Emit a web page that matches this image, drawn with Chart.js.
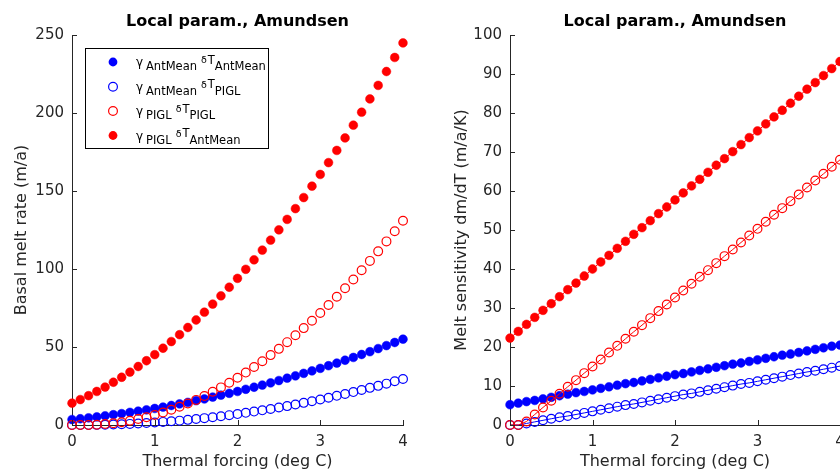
<!DOCTYPE html>
<html>
<head>
<meta charset="utf-8">
<script src="https://cdn.jsdelivr.net/npm/chart.js@4.4.1/dist/chart.umd.min.js"></script>
<style>
html,body{margin:0;padding:0;background:#fff;overflow:hidden;width:840px;height:474px;}
#wrap{position:relative;width:840px;height:474px;overflow:hidden;background:#fff;}
#c1{position:absolute;left:0;top:0;width:420px;height:474px;}
#c2{position:absolute;left:420px;top:0;width:460px;height:474px;}
</style>
</head>
<body>
<div id="wrap">
<canvas id="c1" width="420" height="474"></canvas>
<canvas id="c2" width="460" height="474"></canvas>
</div>
<script>
// ---- data ----
const thermalForcing = [0,0.1,0.2,0.3,0.4,0.5,0.6,0.7,0.8,0.9,1.0,1.1,1.2,1.3,1.4,1.5,1.6,1.7,1.8,1.9,2.0,2.1,2.2,2.3,2.4,2.5,2.6,2.7,2.8,2.9,3.0,3.1,3.2,3.3,3.4,3.5,3.6,3.7,3.8,3.9,4.0];

// Left panel: basal melt rate (m/a)
const meltAntMeanAntMean = [3.5,4.0,4.6,5.2,5.9,6.6,7.3,8.1,8.9,9.7,10.6,11.5,12.5,13.5,14.5,15.6,16.7,17.9,19.1,20.3,21.5,22.9,24.2,25.6,27.0,28.5,30.0,31.5,33.1,34.7,36.3,38.0,39.7,41.5,43.3,45.2,47.0,49.0,50.9,52.9,55.0];
const meltAntMeanPIGL = [0,0.0,0.0,0.1,0.2,0.3,0.5,0.7,1.0,1.3,1.6,2.0,2.4,2.8,3.3,3.8,4.4,5.0,5.6,6.3,7.0,7.8,8.6,9.4,10.3,11.2,12.1,13.1,14.2,15.2,16.3,17.5,18.7,19.9,21.1,22.4,23.8,25.1,26.5,28.0,29.5];
const meltPIGLPIGL = [0,0,0.0,0.2,0.6,1.1,1.8,2.7,3.8,5.0,6.4,8.0,9.8,11.7,13.8,16.1,18.6,21.3,24.1,27.1,30.3,33.6,37.2,40.9,44.8,48.8,53.1,57.5,62.1,66.8,71.8,76.9,82.2,87.7,93.3,99.2,105.2,111.3,117.7,124.2,130.9];
const meltPIGLAntMean = [14.0,16.3,18.8,21.5,24.3,27.4,30.6,33.9,37.5,41.2,45.1,49.2,53.5,57.9,62.5,67.3,72.3,77.5,82.8,88.3,94.0,99.8,105.9,112.1,118.5,125.1,131.8,138.7,145.8,153.1,160.6,168.2,176.0,184.0,192.2,200.5,209.0,217.7,226.6,235.6,244.9];

// Right panel: melt sensitivity dm/dT (m/a/K)
const sensAntMeanAntMean = [5.2,5.6,6.0,6.3,6.7,7.1,7.5,7.9,8.3,8.6,9.0,9.4,9.8,10.2,10.6,10.9,11.3,11.7,12.1,12.5,12.9,13.2,13.6,14.0,14.4,14.8,15.2,15.6,15.9,16.3,16.7,17.1,17.5,17.9,18.2,18.6,19.0,19.4,19.8,20.2,20.5];
const sensAntMeanPIGL = [0,0.0,0.4,0.8,1.2,1.6,2.0,2.3,2.7,3.1,3.5,3.9,4.3,4.7,5.1,5.4,5.8,6.2,6.6,7.0,7.4,7.8,8.1,8.5,8.9,9.3,9.7,10.1,10.5,10.8,11.2,11.6,12.0,12.4,12.8,13.2,13.6,13.9,14.3,14.7,15.1];
const sensPIGLPIGL = [0,0,0.9,2.7,4.5,6.2,8.0,9.8,11.5,13.3,15.0,16.8,18.6,20.3,22.1,23.9,25.6,27.4,29.2,30.9,32.7,34.5,36.2,38.0,39.7,41.5,43.3,45.0,46.8,48.6,50.3,52.1,53.9,55.6,57.4,59.1,60.9,62.7,64.4,66.2,68.0];
const sensPIGLAntMean = [22.3,24.0,25.8,27.6,29.4,31.1,32.9,34.7,36.4,38.2,40.0,41.8,43.5,45.3,47.1,48.9,50.6,52.4,54.2,55.9,57.7,59.5,61.3,63.0,64.8,66.6,68.3,70.1,71.9,73.7,75.4,77.2,79.0,80.7,82.5,84.3,86.1,87.8,89.6,91.4,93.2];

// Legend labels: gamma subscript and deltaT subscript
const gammaSub = ['AntMean','AntMean','PIGL','PIGL'];
const deltaTSub = ['AntMean','PIGL','PIGL','AntMean'];
const seriesColor = ['#0000ff','#0000ff','#ff0000','#ff0000'];
const seriesFilled = [true,false,false,true];

const panelTitle = 'Local param., Amundsen';
const xLabel = 'Thermal forcing (deg C)';
const yLabelLeft = 'Basal melt rate (m/a)';
const yLabelRight = 'Melt sensitivity dm/dT (m/a/K)';

const FONT = "'DejaVu Sans', 'Liberation Sans', sans-serif";
const AXC = '#262626';

function pts(ys){ return thermalForcing.map((x,i)=>({x:x,y:ys[i]})); }

function makeDatasets(series, showLine){
  return series.map((s,i)=>({
    label: 'gamma_' + gammaSub[i] + ' deltaT_' + deltaTSub[i],
    data: pts(s),
    showLine: showLine,
    borderColor: seriesColor[i],
    backgroundColor: seriesFilled[i] ? seriesColor[i] : 'rgba(0,0,0,0)',
    pointBackgroundColor: seriesFilled[i] ? seriesColor[i] : 'rgba(0,0,0,0)',
    pointBorderColor: seriesColor[i],
    pointBorderWidth: seriesFilled[i] ? 0.5 : 1.2,
    pointRadius: 4.4,
    pointHoverRadius: 4.4,
    borderWidth: 1,
    tension: 0,
    clip: false,
    order: 4 - i
  }));
}

const inwardTicks = {
  id: 'inwardTicks',
  afterDraw(chart){
    const ctx = chart.ctx, a = chart.chartArea;
    const xs = chart.scales.x, ys = chart.scales.y;
    ctx.save();
    ctx.strokeStyle = AXC; ctx.lineWidth = 1;
    xs.ticks.forEach((t,i)=>{
      const px = Math.round(xs.getPixelForTick(i)) + 0.5;
      ctx.beginPath(); ctx.moveTo(px, a.bottom); ctx.lineTo(px, a.bottom - 5); ctx.stroke();
    });
    ys.ticks.forEach((t,i)=>{
      const py = Math.round(ys.getPixelForTick(i)) + 0.5;
      ctx.beginPath(); ctx.moveTo(a.left, py); ctx.lineTo(a.left + 5, py); ctx.stroke();
    });
    ctx.restore();
  }
};

const texLegend = {
  id: 'texLegend',
  afterDraw(chart){
    const ctx = chart.ctx;
    const bx = 85.5, by = 48.5, bw = 183, bh = 100;
    ctx.save();
    ctx.fillStyle = '#fff';
    ctx.fillRect(bx, by, bw, bh);
    ctx.strokeStyle = '#000'; ctx.lineWidth = 1;
    ctx.strokeRect(bx, by, bw, bh);
    const rowY = [62, 86.7, 111, 135.5];
    chart.data.datasets.forEach((ds,i)=>{
      const y = rowY[i];
      // marker
      ctx.beginPath();
      ctx.arc(113, y, 4.4, 0, Math.PI*2);
      if (seriesFilled[i]) { ctx.fillStyle = seriesColor[i]; ctx.fill(); }
      else { ctx.strokeStyle = seriesColor[i]; ctx.lineWidth = 1.2; ctx.stroke(); }
      // text
      ctx.fillStyle = '#000';
      ctx.textBaseline = 'alphabetic';
      ctx.textAlign = 'left';
      let x = 136;
      ctx.font = '12px ' + FONT;
      ctx.fillText('\u03B3', x, y + 4);
      x = 146;
      ctx.font = '11.5px ' + FONT;
      ctx.fillText(gammaSub[i], x, y + 8);
      x += ctx.measureText(gammaSub[i]).width + 4;
      ctx.font = '9.5px ' + FONT;
      ctx.fillText('\u03B4', x, y + 1);
      x += ctx.measureText('\u03B4').width + 1;
      ctx.font = '11.5px ' + FONT;
      ctx.fillText('T', x, y + 1.5);
      x += ctx.measureText('T').width;
      ctx.fillText(deltaTSub[i], x, y + 8);
    });
    ctx.restore();
  }
};

function makeOptions(yMax, yStep, yLabel, yWidth, yTitlePad, rightPad){
  return {
    responsive: false,
    animation: false,
    devicePixelRatio: 1,
    events: [],
    layout: { padding: { left: 0, right: rightPad, top: 0, bottom: 0 } },
    plugins: {
      legend: { display: false },
      tooltip: { enabled: false },
      title: {
        display: true, text: panelTitle, color: '#000', fullSize: false,
        font: { family: FONT, size: 16, weight: 'bold' },
        padding: { top: 12, bottom: 3.8 }
      }
    },
    scales: {
      x: {
        type: 'linear', min: 0, max: 4,
        ticks: { stepSize: 1, color: AXC, font: { family: FONT, size: 15 }, padding: 8, maxRotation: 0 },
        grid: { display: false, drawTicks: false },
        border: { display: true, color: AXC, width: 1 },
        title: { display: true, text: xLabel, color: AXC, font: { family: FONT, size: 16 }, padding: { top: 0, bottom: 2.4 } },
        afterFit(s){ s.height = 49; }
      },
      y: {
        type: 'linear', min: 0, max: yMax,
        ticks: { stepSize: yStep, color: AXC, font: { family: FONT, size: 15 }, padding: 8 },
        grid: { display: false, drawTicks: false },
        border: { display: true, color: AXC, width: 1 },
        title: { display: true, text: yLabel, color: AXC, font: { family: FONT, size: 16 }, padding: { top: yTitlePad, bottom: 0 } },
        afterFit(s){ s.width = yWidth; }
      }
    }
  };
}

new Chart(document.getElementById('c1'), {
  type: 'line',
  data: { datasets: makeDatasets([meltAntMeanAntMean, meltAntMeanPIGL, meltPIGLPIGL, meltPIGLAntMean], false) },
  options: makeOptions(250, 50, yLabelLeft, 72, 12.4, 17),
  plugins: [inwardTicks, texLegend]
});

new Chart(document.getElementById('c2'), {
  type: 'line',
  data: { datasets: makeDatasets([sensAntMeanAntMean, sensAntMeanPIGL, sensPIGLPIGL, sensPIGLAntMean], true) },
  options: makeOptions(100, 10, yLabelRight, 90, 32.4, 40),
  plugins: [inwardTicks]
});
</script>
</body>
</html>
